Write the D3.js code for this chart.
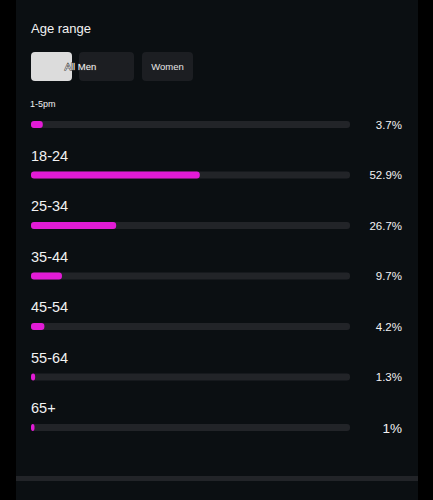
<!DOCTYPE html>
<html><head><meta charset="utf-8">
<script src="https://cdn.jsdelivr.net/npm/d3@7"></script>
<style>html,body{margin:0;padding:0;background:#000;}svg{display:block;}</style>
</head><body><svg id="c" width="433" height="500"></svg>
<script>
const title = "Age range";
const buttons = ["", "All Men", "Women"];
const categories = ["1-5pm", "18-24", "25-34", "35-44", "45-54", "55-64", "65+"];
const values = [3.7, 52.9, 26.7, 9.7, 4.2, 1.3, 1];
const valueLabels = ["3.7%", "52.9%", "26.7%", "9.7%", "4.2%", "1.3%", "1%"];

const svg = d3.select("#c");
svg.append("rect").attr("x",0).attr("y",0).attr("width",433).attr("height",500).attr("fill","#000");
svg.append("rect").attr("x",16).attr("y",0).attr("width",402).attr("height",500).attr("fill","#0b0f12");
svg.append("rect").attr("x",16).attr("y",476).attr("width",402).attr("height",5).attr("fill","#222428");

const font = "Helvetica, Arial, 'Liberation Sans', sans-serif";
svg.append("text").attr("x",31).attr("y",33).attr("fill","#f2f2f2").attr("font-family",font).attr("font-size",13).text(title);

// buttons
svg.append("rect").attr("x",79).attr("y",52).attr("width",55).attr("height",29).attr("rx",4).attr("fill","#1c1e22");
svg.append("rect").attr("x",142).attr("y",52).attr("width",51).attr("height",29).attr("rx",4).attr("fill","#1c1e22");
svg.append("rect").attr("x",31).attr("y",52).attr("width",41).attr("height",29).attr("rx",4).attr("fill","#dcdcdc");
svg.append("text").attr("x",80.5).attr("y",70).attr("text-anchor","middle").attr("fill","#f4f4f4")
  .attr("stroke","#333").attr("stroke-width",1).attr("paint-order","stroke")
  .attr("font-family",font).attr("font-size",9.5).text(buttons[1]);
svg.append("text").attr("x",167.5).attr("y",70).attr("text-anchor","middle").attr("fill","#e6e6e6").attr("font-family",font).attr("font-size",9.5).text(buttons[2]);

const x = d3.scaleLinear().domain([0,100]).range([31,350]);
const y = d3.scaleBand().domain(categories).range([100,453.5]).paddingInner(0).paddingOuter(0);

const rows = svg.append("g").selectAll("g").data(categories).join("g")
  .attr("transform", d => `translate(0,${y(d)})`);

rows.append("text").attr("x", (d,i)=> i===0 ? 30 : 31)
  .attr("y", (d,i)=> i===0 ? 7 : 10)
  .attr("fill","#f2f2f2").attr("font-family",font)
  .attr("font-size",(d,i)=> i===0 ? 9 : 14.5)
  .text(d=>d);

rows.append("rect").attr("x",x(0)).attr("y",21)
  .attr("width",x(100)-x(0)).attr("height",7).attr("rx",3).attr("fill","#222428");
rows.append("rect").attr("x",x(0)).attr("y",21)
  .attr("width",(d,i)=>Math.max(3.5, x(values[i])-x(0))).attr("height",7).attr("rx",3).attr("fill","#e21bd6");
rows.append("text").attr("x",402).attr("y",(d,i)=> i===6 ? 29.5 : 28.5)
  .attr("text-anchor","end").attr("fill","#f2f2f2").attr("font-family",font)
  .attr("font-size",(d,i)=> i===6 ? 13.5 : 11.5)
  .text((d,i)=>valueLabels[i]);
</script></body></html>
